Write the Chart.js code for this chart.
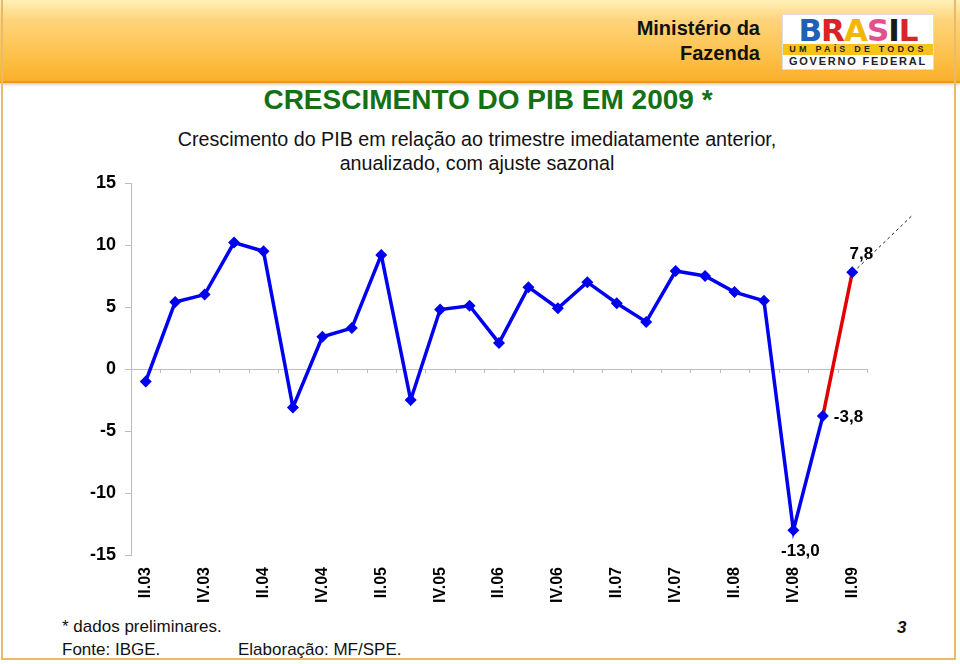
<!DOCTYPE html>
<html>
<head>
<meta charset="utf-8">
<script src="https://cdn.jsdelivr.net/npm/chart.js@4.4.0/dist/chart.umd.min.js"></script>
<style>
  body { margin: 0; width: 960px; height: 664px; overflow: hidden; background: #fff;
         font-family: "Liberation Sans", Arial, sans-serif; }
  .abs { position: absolute; }
  #band { left: 0; top: 0; width: 960px; height: 81px;
          background: linear-gradient(#fff0b8 0%, #fed47a 25%, #fdc04a 70%, #fbb02a 100%);
          border-bottom: 2px solid #e39a25; box-shadow: 0 2px 2px rgba(120,80,0,.25); }
  #frame { left: 1px; top: 0; width: 951px; height: 658px; border: 2px solid #e6bb6c; border-top: none; }
  #ministerio { right: 200px; top: 16px; text-align: right; font-weight: bold; font-size: 20px;
                line-height: 25px; color: #111; }
  #logo { left: 782px; top: 14px; width: 152px; height: 56px; background: #fff; border: 1px solid #ddd;
          box-sizing: border-box; font-weight: bold; text-align: center; }
  #logo .big { font-family: "DejaVu Sans", sans-serif; font-size: 31px; line-height: 30px; letter-spacing: -1px;
               font-weight: 900; height: 29px; overflow: hidden; }
  #logo .strip { background: #f7c21c; font-size: 9px; line-height: 11px; letter-spacing: 3.2px; color: #222; }
  #logo .gov { font-size: 11px; line-height: 13px; letter-spacing: 1.8px; color: #222; }
  #title { left: 0; width: 976px; top: 84px; text-align: center; font-weight: bold; font-size: 28px;
           color: #147014; }
  #sub { left: 0; width: 954px; top: 127px; text-align: center; font-size: 19.7px; line-height: 24px; color: #111; }
  #foot1 { left: 62px; top: 617px; font-size: 17px; color: #111; }
  #foot2 { left: 62px; top: 640px; font-size: 17px; color: #111; }
  #foot3 { left: 238px; top: 640px; font-size: 17px; color: #111; }
  #page { left: 897px; top: 618px; font-size: 17px; font-weight: bold; font-style: italic; color: #111; }
  canvas { position: absolute; left: 0; top: 0; }
</style>
</head>
<body>
<div id="band" class="abs"></div>
<div id="frame" class="abs"></div>
<div id="ministerio" class="abs">Ministério da<br>Fazenda</div>
<div id="logo" class="abs">
  <div class="big"><span style="color:#1f5fb8">B</span><span style="color:#d8232a">R</span><span style="color:#f2b705">A</span><span style="color:#e4508f">S</span><span style="color:#1a1a1a">I</span><span style="color:#d8232a">L</span></div>
  <div class="strip">UM PAÍS DE TODOS</div>
  <div class="gov">GOVERNO FEDERAL</div>
</div>
<div id="title" class="abs">CRESCIMENTO DO PIB EM 2009 *</div>
<div id="sub" class="abs">Crescimento do PIB em relação ao trimestre imediatamente anterior,<br>anualizado, com ajuste sazonal</div>
<div id="foot1" class="abs">* dados preliminares.</div>
<div id="foot2" class="abs">Fonte: IBGE.</div>
<div id="foot3" class="abs">Elaboração: MF/SPE.</div>
<div id="page" class="abs">3</div>
<canvas id="pibChart" width="960" height="664"></canvas>

<script>
// trimestres II.03 .. II.09
var quarters = ['II.03','III.03','IV.03','I.04','II.04','III.04','IV.04','I.05','II.05','III.05','IV.05','I.06',
                'II.06','III.06','IV.06','I.07','II.07','III.07','IV.07','I.08','II.08','III.08','IV.08','I.09','II.09'];
// crescimento anualizado, %
var pib = [-1.0, 5.4, 6.0, 10.2, 9.5, -3.1, 2.6, 3.3, 9.2, -2.5, 4.8, 5.1,
           2.1, 6.6, 4.9, 7.0, 5.3, 3.8, 7.9, 7.5, 6.2, 5.5, -13.0, -3.8, 7.8];
var yTicks = [-15, -10, -5, 0, 5, 10, 15];
var pointLabels = { 22: '-13,0', 23: '-3,8', 24: '7,8' };

var FONT = '"Liberation Sans", Arial, sans-serif';
var BLUE = '#0000f0';
var RED = '#e00000';
var AXIS = '#bdbdbd';

var extras = {
    id: 'extras',
    beforeDatasetsDraw: function (chart) {
        var ctx = chart.ctx, x = chart.scales.x, y0 = chart.scales.y.getPixelForValue(0);
        var half = (x.getPixelForValue(1) - x.getPixelForValue(0)) / 2;
        ctx.save();
        ctx.strokeStyle = AXIS;
        ctx.lineWidth = 1;
        ctx.beginPath();
        for (var i = 0; i <= quarters.length; i++) {
            var px = Math.round(x.getPixelForValue(i) - half) + 0.5;
            ctx.moveTo(px, y0);
            ctx.lineTo(px, y0 + 4);
        }
        ctx.stroke();
        ctx.restore();
    },
    afterDatasetsDraw: function (chart) {
        var ctx = chart.ctx, meta = chart.getDatasetMeta(0);
        ctx.save();
        // linha tracejada saindo do último ponto
        var last = meta.data[pib.length - 1];
        ctx.strokeStyle = '#222';
        ctx.lineWidth = 1;
        ctx.setLineDash([3, 3]);
        ctx.beginPath();
        ctx.moveTo(last.x + 5, last.y - 4);
        ctx.lineTo(last.x + 59, last.y - 56);
        ctx.stroke();
        ctx.setLineDash([]);

        ctx.fillStyle = '#000';
        ctx.font = 'bold 17px ' + FONT;
        ctx.textBaseline = 'middle';
        Object.keys(pointLabels).forEach(function (k) {
            var p = meta.data[k], txt = pointLabels[k];
            if (k == 24) { ctx.textAlign = 'center'; ctx.fillText(txt, p.x + 9, p.y - 18); }
            else if (k == 23) { ctx.textAlign = 'left'; ctx.fillText(txt, p.x + 11, p.y + 1); }
            else { ctx.textAlign = 'center'; ctx.fillText(txt, p.x + 7, p.y + 21); }
        });
        ctx.restore();
    }
};

new Chart(document.getElementById('pibChart'), {
    type: 'line',
    data: {
        labels: quarters,
        datasets: [{
            data: pib,
            borderColor: BLUE,
            borderWidth: 3.5,
            tension: 0,
            pointStyle: 'rectRot',
            pointRadius: 6,
            pointBackgroundColor: BLUE,
            pointBorderColor: BLUE,
            pointBorderWidth: 0,
            clip: false,
            segment: {
                borderColor: function (c) { return c.p1DataIndex === pib.length - 1 ? RED : undefined; }
            }
        }]
    },
    plugins: [extras],
    options: {
        responsive: false,
        animation: false,
        layout: { padding: { left: 81, top: 183, right: 93, bottom: 49 } },
        plugins: { legend: { display: false }, tooltip: { enabled: false } },
        scales: {
            x: {
                offset: true,
                grid: { display: false },
                border: { display: false },
                ticks: {
                    autoSkip: false, maxRotation: 90, minRotation: 90, padding: 4,
                    color: '#000', font: { family: FONT, size: 16, weight: 'bold' },
                    callback: function (v, i) { return i % 2 === 0 ? quarters[i] : ''; }
                },
                afterFit: function (s) { s.height = 60; }
            },
            y: {
                min: yTicks[0], max: yTicks[yTicks.length - 1],
                afterBuildTicks: function (s) { s.ticks = yTicks.map(function (v) { return { value: v }; }); },
                grid: {
                    color: function (c) { return c.tick && c.tick.value === 0 ? AXIS : 'rgba(0,0,0,0)'; },
                    tickColor: AXIS, tickLength: 6
                },
                border: { display: true, color: AXIS },
                ticks: { color: '#000', padding: 9, font: { family: FONT, size: 18, weight: 'bold' } },
                afterFit: function (s) { s.width = 50; }
            }
        }
    }
});
</script>
</body>
</html>
